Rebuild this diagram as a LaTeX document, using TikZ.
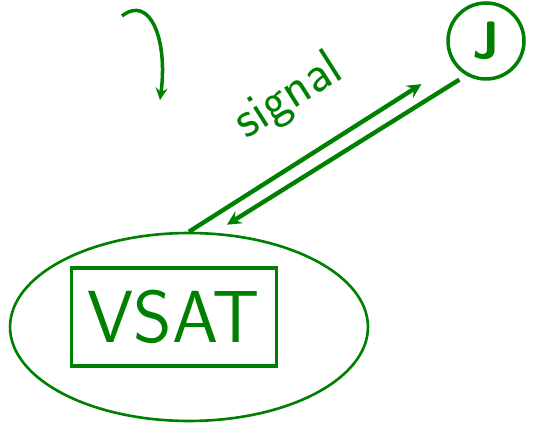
\documentclass[tikz,border=0pt]{standalone}
\usepackage{tikz}
\usetikzlibrary{shapes.geometric, arrows, positioning, calc}
\usepackage{xcolor}
\definecolor{penGreen}{RGB}{0, 128, 0}
\tikzstyle{site} = [ellipse, draw=penGreen, line width=1.5pt, minimum width=7.16cm, minimum height=3.76cm]
\tikzstyle{term} = [rectangle, draw=penGreen, line width=2pt, minimum width=4.1cm, minimum height=1.96cm, text=penGreen, font=\sffamily\fontsize{42}{42}\selectfont]
\tikzstyle{sat} = [circle, draw=penGreen, line width=2pt, minimum size=1.52cm, text=penGreen, font=\sffamily\bfseries\fontsize{30}{30}\selectfont]
\tikzstyle{arrow} = [line width=2.5pt, draw=penGreen, ->, >=stealth]

\begin{document}
\begin{tikzpicture}[x=0.02cm, y=-0.02cm]
    \useasboundingbox (0,0) rectangle (541,425);
    \node (ground) [site] at (189,327) {};
    \node (vsat) [term] at (174,317) {VSAT};
    \node (satellite) [sat] at (486,41) {J};
    \coordinate (hookA) at (122,16);
    \coordinate (hookB) at (160,100);

    \draw [arrow, shorten >=0.76cm] (ground.north) -- node[sloped, above=16pt, pos=0.5, text=penGreen, font=\sffamily\fontsize{30}{30}\selectfont] {signal} (satellite.215);
    \draw [arrow, shorten <=0.16cm, shorten >=0.3cm] (satellite.240) -- (ground.75);
    \draw [arrow, line width=2pt] (hookA) .. controls (150,-6) and (168,40) .. (hookB);
\end{tikzpicture}
\end{document}
